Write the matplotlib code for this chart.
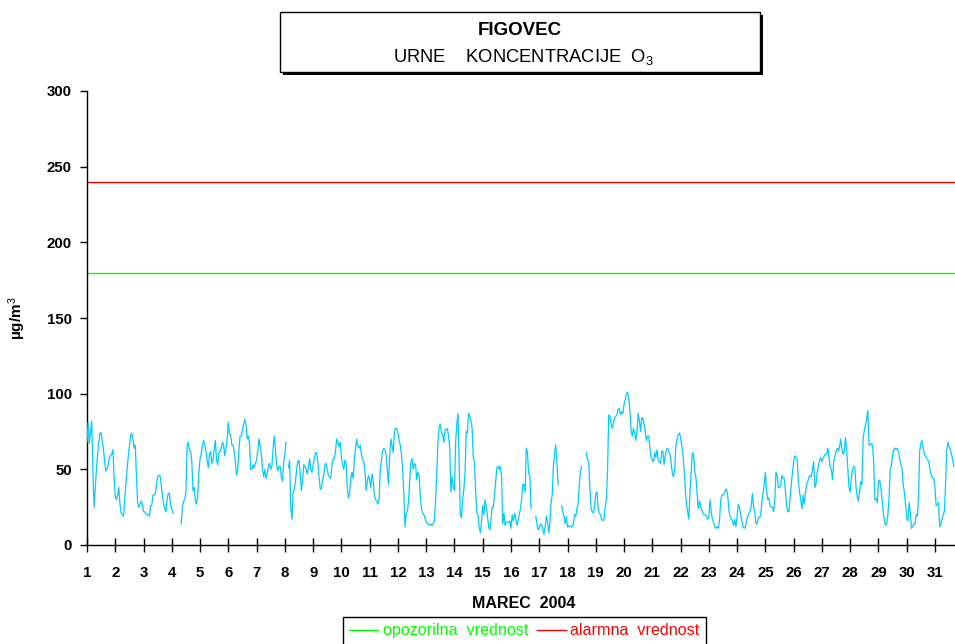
import numpy as np
import matplotlib
matplotlib.use("Agg")
import matplotlib.pyplot as plt
from matplotlib.lines import Line2D
from matplotlib.patches import Rectangle

plt.rcParams["font.family"] = ["Liberation Sans", "DejaVu Sans"]
plt.rcParams["mathtext.fontset"] = "custom"
plt.rcParams["mathtext.rm"] = "Liberation Sans"
plt.rcParams["mathtext.it"] = "Liberation Sans:italic"
plt.rcParams["mathtext.bf"] = "Liberation Sans:bold"

nan = np.nan

# hourly O3 (ug/m3), March 2004, one list per day
mar01 = [68, 81, 67, 75, 82, 50, 25, 38, 50, 60, 68, 74, 74, 68, 63, 55, 49, 50, 53, 58, 59, 60, 63, 45]
mar02 = [32, 30, 33, 38, 27, 21, 20, 19, 30, 40, 50, 58, 65, 72, 74, 70, 64, 66, 45, 28, 25, 27, 29, 27]
mar03 = [22, 22, 21, 20, 20, 19, 26, 26, 33, 33, 34, 40, 45, 46, 46, 40, 33, 28, 24, 22, 30, 34, 34, 26]
mar04 = [24, 21, nan, nan, nan, nan, nan, nan, 14, 25, 29, 30, 35, 66, 68, 62, 62, 55, 36, 38, 29, 27, 33, 48]
mar05 = [57, 60, 66, 69, 66, 62, 56, 51, 60, 62, 54, 56, 63, 69, 56, 53, 61, 62, 64, 68, 66, 59, 64, 70]
mar06 = [81, 73, 73, 66, 66, 62, 55, 46, 50, 63, 72, 72, 76, 80, 83, 80, 70, 72, 67, 50, 50, 53, 51, 54]
mar07 = [56, 62, 70, 66, 60, 51, 45, 50, 44, 47, 52, 54, 50, 52, 64, 72, 63, 53, 49, 52, 52, 45, 42, 55]
mar08 = [60, 68, nan, 51, 56, 25, 17, 34, 37, 42, 50, 55, 56, 48, 36, 42, 53, 52, 50, 47, 51, 57, 50, 48]
mar09 = [53, 57, 61, 61, 55, 45, 37, 37, 43, 46, 53, 54, 50, 46, 45, 44, 53, 57, 57, 62, 70, 68, 65, 68]
mar10 = [58, 53, 50, 56, 54, 38, 31, 34, 44, 48, 44, 56, 64, 70, 65, 64, 66, 60, 56, 55, 49, 36, 42, 46]
mar11 = [43, 38, 47, 43, 33, 30, 29, 27, 30, 50, 56, 62, 64, 63, 59, 50, 40, 58, 70, 66, 61, 75, 77, 77]
mar12 = [74, 69, 66, 60, 50, 34, 12, 21, 22, 29, 42, 55, 57, 50, 54, 53, 43, 48, 46, 32, 24, 21, 20, 18]
mar13 = [15, 14, 14, 13, 14, 13, 14, 16, 30, 48, 68, 78, 80, 74, 73, 68, 76, 76, 77, 72, 64, 35, 45, 38]
mar14 = [36, 68, 80, 87, 55, 20, 18, 30, 37, 48, 75, 74, 87, 85, 82, 77, 58, 55, 35, 21, 20, 12, 8, 16]
mar15 = [26, 20, 30, 25, 19, 12, 10, 16, 25, 25, 33, 42, 51, 52, 50, 52, 45, 14, 21, 13, 15, 15, 15, 16]
mar16 = [11, 20, 16, 21, 18, 13, 16, 20, 24, 30, 40, 40, 35, 64, 61, 47, 46, 24, nan, nan, nan, 19, 14, 10]
mar17 = [11, 14, 13, 11, 7, 12, 19, 16, 8, 14, 28, 33, 52, 61, 66, 55, 40, nan, nan, 26, 22, 19, 14, 19]
mar18 = [12, 13, 12, 12, 12, 14, 20, 19, 24, 27, 40, 49, 52, nan, nan, nan, 61, 56, 55, 37, 24, 22, 21, 25]
mar19 = [34, 35, 24, 21, 20, 17, 16, 17, 25, 30, 50, 86, 85, 80, 77, 81, 84, 85, 86, 90, 90, 86, 88, 87]
mar20 = [93, 96, 100, 101, 97, 88, 76, 72, 77, 74, 69, 75, 87, 82, 75, 84, 84, 80, 75, 69, 72, 72, 64, 58]
mar21 = [56, 55, 61, 58, 63, 56, 55, 54, 62, 62, 53, 59, 63, 64, 62, 60, 54, 47, 45, 50, 65, 70, 73, 74]
mar22 = [71, 66, 60, 50, 37, 27, 22, 17, 36, 48, 61, 60, 48, 45, 34, 24, 29, 26, 23, 21, 20, 20, 19, 17]
mar23 = [18, 30, 22, 17, 15, 12, 11, 12, 11, 16, 29, 33, 33, 34, 36, 37, 33, 23, 19, 17, 16, 13, 17, 12]
mar24 = [19, 27, 25, 20, 16, 12, 11, 12, 16, 19, 21, 22, 26, 34, 25, 22, 14, 14, 18, 18, 20, 28, 34, 40]
mar25 = [48, 36, 30, 31, 26, 25, 25, 22, 30, 48, 46, 38, 38, 39, 46, 44, 44, 36, 26, 22, 22, 32, 40, 48]
mar26 = [55, 59, 58, 57, 42, 35, 30, 24, 33, 27, 34, 40, 42, 45, 46, 45, 50, 55, 38, 40, 48, 52, 56, 58]
mar27 = [55, 57, 59, 60, 60, 64, 58, 52, 50, 43, 55, 58, 62, 64, 62, 65, 70, 63, 60, 62, 71, 63, 51, 38]
mar28 = [35, 44, 50, 52, 51, 38, 32, 29, 35, 42, 40, 70, 76, 79, 83, 89, 66, 66, 67, 66, 54, 30, 31, 28]
mar29 = [42, 43, 38, 31, 22, 17, 13, 14, 20, 31, 50, 52, 60, 63, 64, 63, 64, 62, 57, 53, 51, 40, 35, 27]
mar30 = [18, 16, 28, 22, 11, 12, 14, 14, 20, 19, 32, 62, 67, 69, 64, 60, 59, 57, 56, 54, 49, 46, 44, 44]
mar31 = [38, 26, 27, 28, 12, 14, 17, 20, 22, 40, 62, 68, 65, 63, 60, 57, 52]

warning_limit = 180   # opozorilna vrednost
alarm_limit = 240     # alarmna vrednost
days = list(range(1, 32))

o3 = np.array(mar01 + mar02 + mar03 + mar04 + mar05 + mar06 + mar07 + mar08
              + mar09 + mar10 + mar11 + mar12 + mar13 + mar14 + mar15 + mar16
              + mar17 + mar18 + mar19 + mar20 + mar21 + mar22 + mar23 + mar24
              + mar25 + mar26 + mar27 + mar28 + mar29 + mar30 + mar31, dtype=float)
hours = np.arange(len(o3))

W, H = 955, 644
fig = plt.figure(figsize=(W / 100, H / 100), dpi=100)
ax = fig.add_axes([87 / W, 99 / H, 868 / W, 454 / H])

ax.plot(hours, o3, color="#00ccff", lw=0.9, zorder=3)
ax.axhline(warning_limit, color="#00ff00", lw=1.0)
ax.axhline(alarm_limit, color="#ff0000", lw=1.0)

ax.set_xlim(0, 737)
ax.set_ylim(0, 300)
for side in ("top", "right"):
    ax.spines[side].set_visible(False)
for side in ("left", "bottom"):
    ax.spines[side].set_linewidth(1.0)

ax.set_yticks(range(0, 301, 50))
ax.set_xticks([(d - 1) * 24 for d in days])
ax.set_xticklabels([str(d) for d in days])
ax.tick_params(axis="x", direction="inout", length=10, width=1, pad=10, labelsize=10.8)
ax.tick_params(axis="y", direction="out", length=5, width=1, pad=6, labelsize=10.8)
for lab in ax.get_xticklabels() + ax.get_yticklabels():
    lab.set_fontweight("bold")

fig.text(17 / W, 1 - 318 / H, "µg/m$^3$", rotation=90, ha="center", va="center",
         fontsize=11, fontweight="bold")
fig.text(524 / W, 1 - 603 / H, "MAREC  2004", ha="center", va="center",
         fontsize=11.5, fontweight="bold")

# title box with drop shadow
fig.add_artist(Rectangle(((280 + 3) / W, 1 - (72 + 3) / H), 480 / W, 60 / H,
                         transform=fig.transFigure, facecolor="black", edgecolor="none"))
fig.add_artist(Rectangle((280 / W, 1 - 72 / H), 480 / W, 60 / H,
                         transform=fig.transFigure, facecolor="white",
                         edgecolor="black", lw=1))
fig.text(520 / W, 1 - 35 / H, "FIGOVEC", ha="center", va="baseline",
         fontsize=13.5, fontweight="bold")
fig.text(523 / W, 1 - 62 / H, "URNE    KONCENTRACIJE  O$_3$", ha="center", va="baseline",
         fontsize=13.2)

handles = [Line2D([], [], color="#00ff00", lw=1), Line2D([], [], color="#ff0000", lw=1)]
leg = fig.legend(handles, ["opozorilna  vrednost", "alarmna  vrednost"],
                 loc="upper center", bbox_to_anchor=(524.5 / W, 1 - 617 / H), ncol=2,
                 frameon=True, fancybox=False, edgecolor="black", framealpha=1,
                 handlelength=1.8, handletextpad=0.3, columnspacing=0.5,
                 borderpad=0.4, borderaxespad=0, fontsize=11.6)
leg.get_frame().set_linewidth(1)
for txt, col in zip(leg.get_texts(), ["#00ff00", "#ff0000"]):
    txt.set_color(col)

fig.savefig("out.png", dpi=100)
